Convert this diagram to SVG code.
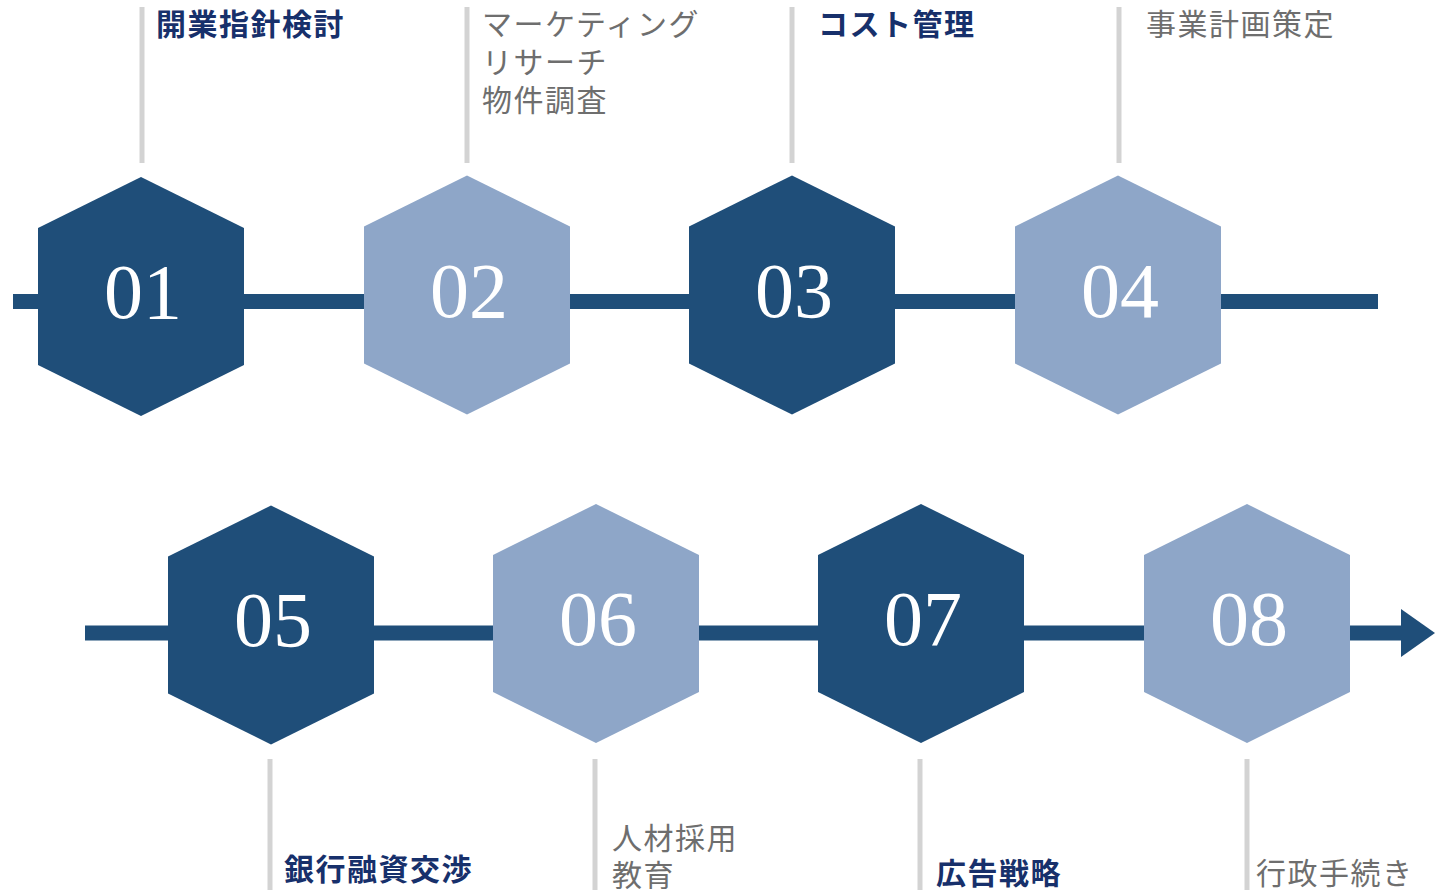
<svg xmlns="http://www.w3.org/2000/svg" width="1435" height="890" viewBox="0 0 1435 890">
<style>
.dark{fill:#1f4e79}
.light{fill:#8ea6c8}
.num{font-family:"Liberation Serif","Times New Roman",serif;font-size:78px;fill:#ffffff;text-anchor:middle}
.tick{stroke:#d3d3d3;stroke-width:5}
.lb{font-family:"Noto Sans CJK JP",sans-serif;font-size:30px;letter-spacing:1.5px}
.bold{fill:#17306b;font-weight:bold}
.gray{fill:#6e6e6e}
.conn{stroke:#1f4e79;stroke-width:15;fill:none}
</style>
<defs>
<polygon id="hex" points="0,-119.5 103,-68.5 103,68.5 0,119.5 -103,68.5 -103,-68.5"/>
<marker id="arr" markerUnits="userSpaceOnUse" markerWidth="34" markerHeight="48" refX="0" refY="24" orient="auto" overflow="visible">
<path d="M0,0 L34,24 L0,48 Z" fill="#1f4e79"/>
</marker>
</defs>
<g id="connectors">
<line class="conn" x1="13" y1="301.5" x2="1378" y2="301.5"/>
<line class="conn" x1="85" y1="633" x2="1401" y2="633" marker-end="url(#arr)"/>
</g>
<g id="n01">
<use href="#hex" class="dark" x="141" y="296.5"/>
<text class="num" x="143" y="318">01</text>
<line class="tick" x1="142" y1="7" x2="142" y2="163"/>
<text class="lb bold" x="156" y="35">開業指針検討</text>
</g>
<g id="n02">
<use href="#hex" class="light" x="467" y="295"/>
<text class="num" x="469" y="317">02</text>
<line class="tick" x1="467" y1="7" x2="467" y2="163"/>
<text class="lb gray" x="482" y="35">マーケティング</text>
<text class="lb gray" x="482" y="73">リサーチ</text>
<text class="lb gray" x="482" y="111">物件調査</text>
</g>
<g id="n03">
<use href="#hex" class="dark" x="792" y="295"/>
<text class="num" x="794" y="317">03</text>
<line class="tick" x1="792" y1="7" x2="792" y2="163"/>
<text class="lb bold" x="818" y="35">コスト管理</text>
</g>
<g id="n04">
<use href="#hex" class="light" x="1118" y="295"/>
<text class="num" x="1120" y="317">04</text>
<line class="tick" x1="1119" y1="7" x2="1119" y2="163"/>
<text class="lb gray" x="1146" y="35">事業計画策定</text>
</g>
<g id="n05">
<use href="#hex" class="dark" x="271" y="625"/>
<text class="num" x="273" y="646">05</text>
<line class="tick" x1="270" y1="759" x2="270" y2="890"/>
<text class="lb bold" x="284" y="880">銀行融資交渉</text>
</g>
<g id="n06">
<use href="#hex" class="light" x="596" y="623.5"/>
<text class="num" x="598" y="645">06</text>
<line class="tick" x1="595" y1="759" x2="595" y2="890"/>
<text class="lb gray" x="612" y="849">人材採用</text>
<text class="lb gray" x="612" y="886">教育</text>
</g>
<g id="n07">
<use href="#hex" class="dark" x="921" y="623.5"/>
<text class="num" x="923" y="645">07</text>
<line class="tick" x1="920" y1="759" x2="920" y2="890"/>
<text class="lb bold" x="936" y="884">広告戦略</text>
</g>
<g id="n08">
<use href="#hex" class="light" x="1247" y="623.5"/>
<text class="num" x="1249" y="645">08</text>
<line class="tick" x1="1247" y1="759" x2="1247" y2="890"/>
<text class="lb gray" x="1256" y="884">行政手続き</text>
</g>
</svg>
